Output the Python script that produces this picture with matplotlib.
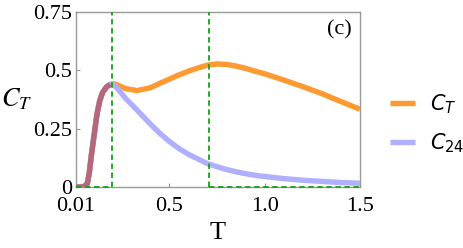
import matplotlib
matplotlib.use('Agg')
import matplotlib.pyplot as plt
from matplotlib.font_manager import FontProperties

# temperature grid
T = [0.01, 0.05, 0.07, 0.08, 0.09, 0.10, 0.11, 0.12, 0.135, 0.15, 0.17, 0.19, 0.21,
     0.23, 0.27, 0.33, 0.40, 0.45, 0.50, 0.55, 0.60, 0.65, 0.70, 0.75, 0.80,
     0.85, 0.90, 0.95, 1.00, 1.10, 1.20, 1.30, 1.40, 1.50]

C_T = [0.0, 0.0, 0.015, 0.06, 0.13, 0.19, 0.25, 0.31, 0.37, 0.405, 0.428, 0.44, 0.442,
       0.436, 0.422, 0.413, 0.425, 0.444, 0.462, 0.48, 0.496, 0.51, 0.522, 0.527, 0.525,
       0.518, 0.508, 0.496, 0.485, 0.458, 0.43, 0.40, 0.366, 0.333]

C_24 = [0.0, 0.0, 0.015, 0.06, 0.13, 0.19, 0.25, 0.31, 0.37, 0.405, 0.428, 0.44, 0.436,
        0.42, 0.38, 0.33, 0.27, 0.23, 0.195, 0.165, 0.14, 0.12, 0.10, 0.087, 0.075,
        0.065, 0.057, 0.05, 0.045, 0.036, 0.029, 0.024, 0.019, 0.016]

# transition temperatures (green dashed markers)
T_low = 0.2
T_high = 0.71

x_ticks = [0.01, 0.5, 1.0, 1.5]
x_ticklabels = ['0.01', '0.5', '1.0', '1.5']
y_ticks = [0, 0.25, 0.5, 0.75]
y_ticklabels = ['0', '0.25', '0.5', '0.75']

plt.rcParams['font.family'] = ['Liberation Serif', 'DejaVu Serif']
plt.rcParams['mathtext.fontset'] = 'stix'

orange = '#ff9a33'
lavender = '#b0b0ff'
overlap = '#b4687a'
green = '#1a9e1a'
frame = '#999999'

fig = plt.figure(figsize=(4.63, 2.48), dpi=100)
ax = fig.add_axes([0.164, 0.246, 0.6135, 0.706])

ax.plot(T, C_T, color=orange, lw=3.9, solid_capstyle='butt', label=r'$C_T$', zorder=3)
ax.plot(T, C_24, color=lavender, lw=3.9, solid_capstyle='butt', label=r'$C_{24}$', zorder=4)
# both curves coincide below T_low -> blended colour
n_low = sum(1 for t in T if t <= T_low)
ax.plot(T[:n_low], C_24[:n_low], color=overlap, lw=3.9, solid_capstyle='butt', zorder=5)

dash = dict(color=green, lw=1.3, dashes=(3, 2), zorder=6)
ax.axvline(T_low, **dash)
ax.axvline(T_high, **dash)
ax.plot([T[0], T_low], [0, 0], clip_on=False, **dash)
ax.plot([T_high, T[-1]], [0, 0], clip_on=False, **dash)

ax.set_xlim(T[0], T[-1])
ax.set_ylim(0, 0.75)
ax.set_xticks(x_ticks)
ax.set_xticklabels(x_ticklabels)
ax.set_yticks(y_ticks)
ax.set_yticklabels(y_ticklabels, va='center_baseline')
ax.tick_params(direction='in', length=3, width=0.8, color=frame, labelsize=16)
ax.tick_params(axis='x', pad=7)
ax.tick_params(axis='y', pad=3)

for s in ax.spines.values():
    s.set_color(frame)
    s.set_linewidth(1.0)

ax.set_xlabel('T', fontsize=19)
ax.xaxis.set_label_coords(0.5, -0.2)
ax.set_ylabel(r'$C_T$', fontsize=19, rotation=0, va='center', ha='center')
ax.yaxis.set_label_coords(-0.207, 0.5)

ax.text(0.97, 0.9, '(c)', transform=ax.transAxes, ha='right', va='center', fontsize=16)

leg_font = FontProperties(family='DejaVu Sans', size=15, math_fontfamily='dejavusans')
ax.legend(loc='center left', bbox_to_anchor=(1.04, 0.36), prop=leg_font, frameon=False,
          handlelength=1.2, handletextpad=0.7, labelspacing=0.75)

fig.savefig('out.png', dpi=100)
